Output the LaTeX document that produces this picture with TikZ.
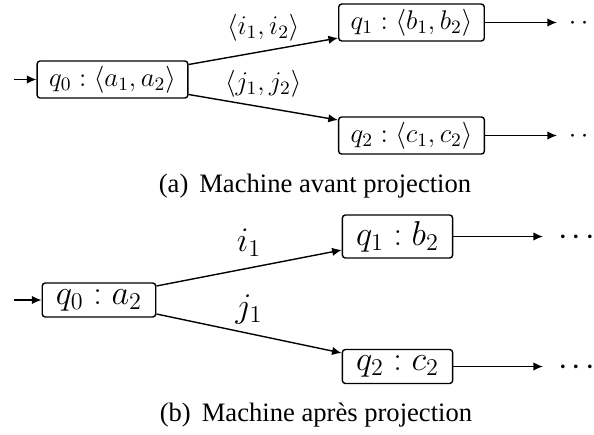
\RequirePackage{fix-cm}
\documentclass[tikz,border=0pt]{standalone}
\usepackage{fontspec}
\setmainfont{Liberation Serif}
\usetikzlibrary{arrows.meta}
\tikzset{
  topfont/.style={font=\fontsize{13.5}{16}\selectfont},
  botfont/.style={font=\fontsize{17.25}{20}\selectfont},
  capfont/.style={font=\fontsize{13.3}{16}\selectfont},
  statebox/.style={draw, rounded corners=1.5pt, line width=0.7pt},
  topstate/.style={statebox, topfont, inner xsep=6pt, inner ysep=2.5pt},
  botstate/.style={statebox, botfont, inner xsep=6.85pt, inner ysep=3.1pt},
  arr/.style={-{Latex[length=4.8pt,width=4.2pt]}, line width=0.7pt},
  toplabel/.style={topfont, inner sep=0pt, above=4.5pt},
  botlabel/.style={botfont, inner sep=0pt},
  topdots/.style={topfont, anchor=west, inner xsep=5.7pt, inner ysep=0pt},
  botdots/.style={botfont, anchor=west, inner xsep=7.6pt, inner ysep=0pt}
}
\begin{document}
\begin{tikzpicture}[x=0.5pt,y=-0.5pt]
\useasboundingbox (0,0) rectangle (594,434);

% ---------- (a) ----------
\coordinate (sa) at (14,79.5);
\node[topstate] (q0a) at (112.5,79.5) {$q_0 : \langle a_1, a_2\rangle$};
\node[topstate] (q1a) at (411.5,22.5) {$q_1 : \langle b_1, b_2\rangle$};
\node[topstate] (q2a) at (411.5,135.5) {$q_2 : \langle c_1, c_2\rangle$};
\node[topdots] (d1a) at (557,22.5) {$\mathinner{\vphantom{\langle}\cdotp\cdotp\cdotp}$};
\node[topdots] (d2a) at (557,135.5) {$\mathinner{\vphantom{\langle}\cdotp\cdotp\cdotp}$};

\draw[arr] (sa) -- (q0a.west);
\draw[arr] ([yshift=7.5pt]q0a.east) -- node[toplabel] (la1) {$\langle i_1, i_2\rangle$} ([yshift=-7.75pt]q1a.west);
\draw[arr] ([yshift=-7.5pt]q0a.east) -- node[toplabel] (la2) {$\langle j_1, j_2\rangle$} ([yshift=7.75pt]q2a.west);
\draw[arr] (q1a.east) -- (d1a.west);
\draw[arr] (q2a.east) -- (d2a.west);

\node[capfont, anchor=base] (capa) at (315,192.5) {(a)\hspace{5.5pt}Machine avant projection};

% ---------- (b) ----------
\coordinate (sb) at (14,300);
\node[botstate] (q0b) at (99,300) {$q_0 : a_2$};
\node[botstate] (q1b) at (397.5,236.5) {$q_1 : b_2$};
\node[botstate] (q2b) at (397.5,366.5) {$q_2 : c_2$};
\node[botdots] (d1b) at (543,236.5) {$\mathord{\vphantom{\langle}\cdotp}\mkern2mu\mathord{\cdotp}\mkern2mu\mathord{\cdotp}$};
\node[botdots] (d2b) at (543,366.5) {$\mathord{\vphantom{\langle}\cdotp}\mkern2mu\mathord{\cdotp}\mkern2mu\mathord{\cdotp}$};

\draw[arr] (sb) -- (q0b.west);
\draw[arr] ([yshift=7pt]q0b.east) -- node[botlabel, above=5.5pt] (lb1) {$i_1$} ([yshift=-6.75pt]q1b.west);
\draw[arr] ([yshift=-7pt]q0b.east) -- node[botlabel, above=4.5pt] (lb2) {$j_1$} ([yshift=6.75pt]q2b.west);
\draw[arr] (q1b.east) -- (d1b.west);
\draw[arr] (q2b.east) -- (d2b.west);

\node[capfont, anchor=base] (capb) at (316,421.5) {(b)\hspace{5.5pt}Machine après projection};
\end{tikzpicture}
\end{document}
